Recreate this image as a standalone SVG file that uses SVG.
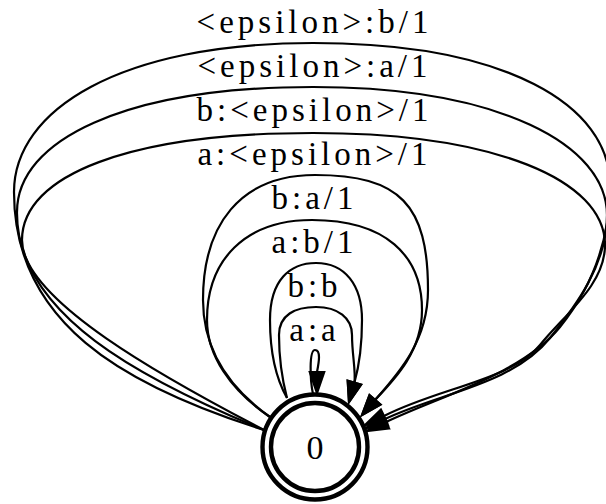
<svg xmlns="http://www.w3.org/2000/svg" width="606" height="504" viewBox="0 0 606 504">
<style>
.edge path{fill:none;stroke:#000;stroke-width:2.2}
.edge polygon{fill:#000;stroke:#000;stroke-width:2.2;stroke-linejoin:miter}
.lbl{font-family:"Liberation Serif","Times New Roman",serif;font-size:33px;letter-spacing:4px;text-anchor:middle;fill:#000}
.ring{fill:none;stroke:#000;stroke-width:4.4}
</style>
<rect width="606" height="504" fill="#fff"/>
<g id="connectors">
  <g class="edge" id="e_eps_b">
    <path d="M264,430 C121.5,385 14,322 14,192 C14,110 120,43 313,43 C506,43 610,105 610,185 C610,250 585,296 560,327 C522,374 440,396 386,422"/>
    <polygon points="389.1,428.5 367,431 382.9,415.5"/>
    <text class="lbl" x="314.5" y="33">&lt;epsilon&gt;:b/1</text>
  </g>
  <g class="edge" id="e_eps_a">
    <path d="M264,430 C144.4,380.6 16,315 17,212 C17,140 125,87 313,87 C500,87 607,145 607,215 C607,265 575,307 550,338 C512,385 439,393 385,419"/>
    <polygon points="388.1,425.5 366,428 381.9,412.5"/>
    <text class="lbl" x="314.5" y="77">&lt;epsilon&gt;:a/1</text>
  </g>
  <g class="edge" id="e_b_eps">
    <path d="M264,430 C166,379 22,300 22,240 C22,175 130,133 313,133 C495,133 605,180 605,245 C605,285 565,314 540,345 C512,380 438,388 384,416"/>
    <polygon points="387.1,422.5 365,425 380.9,409.5"/>
    <text class="lbl" x="314.5" y="121">b:&lt;epsilon&gt;/1</text>
  </g>
  <g class="edge" id="e_a_eps">
    <path d="M270,417 C225,385 203,345 203,300 C203,225 240,175 315,175 C400,175 428,205 428,290 C428,340 400,372 375,400"/>
    <polygon points="380.5,404.5 362,415 369.5,395.1"/>
    <text class="lbl" x="314.5" y="165">a:&lt;epsilon&gt;/1</text>
  </g>
  <g class="edge" id="e_b_a">
    <path d="M270,417 C230,390 207,355 207,320 C207,260 245,220 312,220 C385,220 422,255 422,310 C422,350 397,377 375,400"/>
    <polygon points="380.5,404.5 362,415 369.5,395.1"/>
    <text class="lbl" x="314.5" y="209">b:a/1</text>
  </g>
  <g class="edge" id="e_a_b">
    <path d="M287,398 C274,375 270,345 270,320 C270,280 290,263 316,263 C345,263 362,285 362,320 C362,350 358,370 354.4,382.7"/>
    <polygon points="361.1,384.6 349,402 347.7,380.8"/>
    <text class="lbl" x="314.5" y="253">a:b/1</text>
  </g>
  <g class="edge" id="e_b_b">
    <path d="M287,398 C281,375 279,355 279,335 C279,315 295,307 316,307 C338,307 352,318 352,335 C352,355 356,370 354.4,382.7"/>
    <polygon points="361.1,384.6 349,402 347.7,380.8"/>
    <text class="lbl" x="314.5" y="297">b:b</text>
  </g>
  <g class="edge" id="e_a_a">
    <path d="M313,394 C310,380 309,350 315,350 C321,350 319,362 317,372"/>
    <polygon points="309.8,372 324.2,372 317,393"/>
    <text class="lbl" x="314.5" y="341">a:a</text>
  </g>
</g>
<g id="node0">
  <circle class="ring" cx="315" cy="447" r="44"/>
  <circle class="ring" cx="315" cy="447" r="52.5"/>
  <text class="lbl" x="315" y="459" style="font-size:34px;letter-spacing:0">0</text>
</g>
</svg>
